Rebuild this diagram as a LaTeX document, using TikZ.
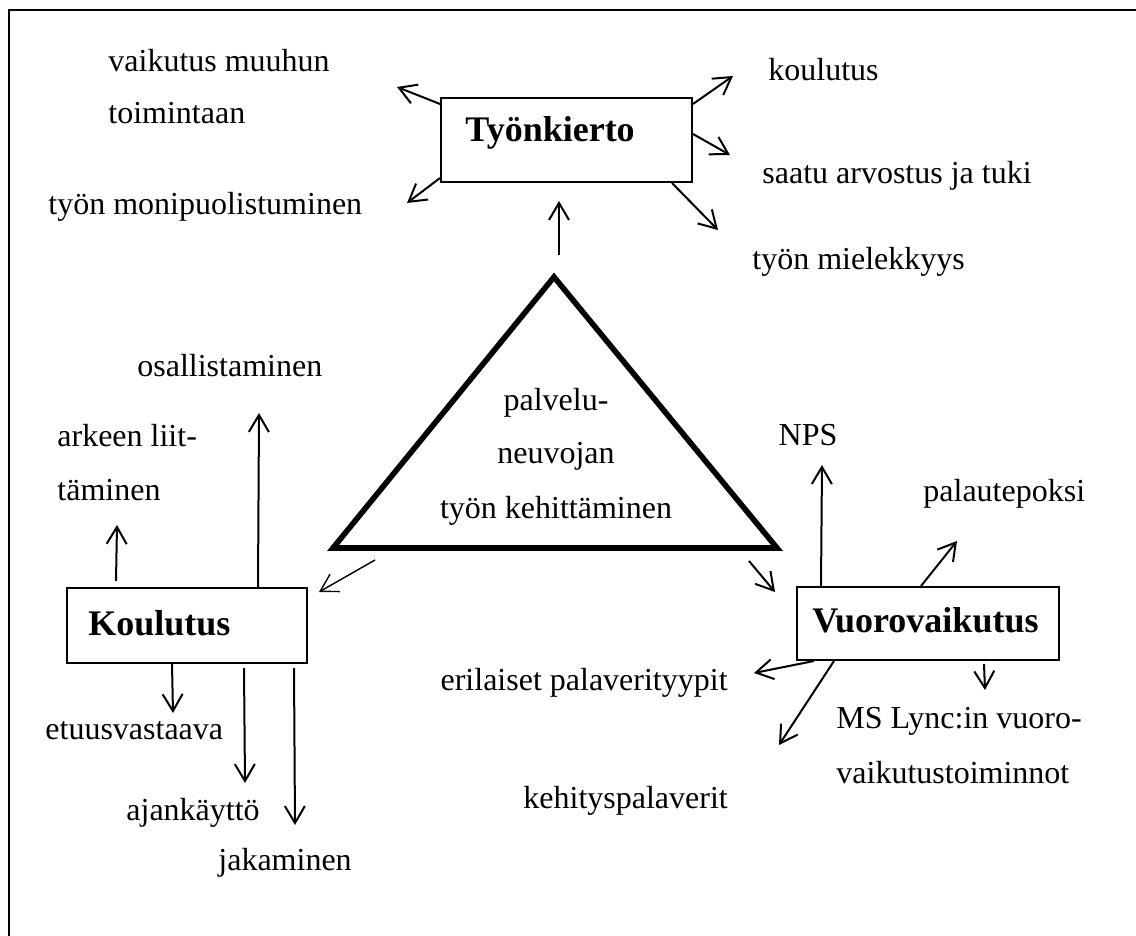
\documentclass[tikz,border=0pt]{standalone}
\usepackage{fontspec}
\setmainfont{Liberation Serif}
\usetikzlibrary{arrows.meta}
\begin{document}
\begin{tikzpicture}[x=0.5pt,y=-0.5pt,
  lbl/.style={inner sep=0pt, anchor=base west, font=\fontsize{16}{19}\selectfont},
  ttl/.style={inner sep=0pt, anchor=base west, font=\fontsize{18}{21}\selectfont\bfseries},
  boxnode/.style={draw, line width=1pt, inner sep=0pt},
  arr/.style={line width=1pt, -{Straight Barb[length=8.5pt,width=10pt]}},
]
\useasboundingbox (0,0) rectangle (1136,936);
% frame
\coordinate (fa) at (9,936);
\coordinate (fb) at (9,10);
\coordinate (fc) at (1136,10);
\draw[line width=1.2pt] (fa) -- (fb) -- (fc);

% boxes
\node[boxnode, minimum width=125.5pt, minimum height=42pt] (tk) at (566.5,140) {};
\node[ttl] (tkt) at (465,142) {Työnkierto};
\node[boxnode, minimum width=120pt, minimum height=37.5pt] (ko) at (187,625.5) {};
\node[ttl] (kot) at (88,635) {Koulutus};
\node[boxnode, minimum width=131pt, minimum height=36.5pt] (vu) at (928,623.5) {};
\node[ttl] (vut) at (812,632) {Vuorovaikutus};

% triangle
\coordinate (ta) at (554,277);
\coordinate (tl) at (333,548);
\coordinate (tr) at (777,548);
\draw[line width=2.8pt, line join=miter] (ta) -- (tl) -- (tr) -- cycle;
\node[lbl, anchor=base] (c1) at (556,410) {palvelu-};
\node[lbl, anchor=base] (c2) at (556,464) {neuvojan};
\node[lbl, anchor=base] (c3) at (556,518) {työn kehittäminen};

% labels
\node[lbl] (l1) at (108,72) {vaikutus muuhun};
\node[lbl] (l2) at (108,124) {toimintaan};
\node[lbl] (l3) at (48,215) {työn monipuolistuminen};
\node[lbl] (l4) at (768,81) {koulutus};
\node[lbl] (l5) at (762,184) {saatu arvostus ja tuki};
\node[lbl] (l6) at (752,270) {työn mielekkyys};
\node[lbl] (l7) at (137,377) {osallistaminen};
\node[lbl] (l8) at (57,446) {arkeen liit-};
\node[lbl] (l9) at (57,501) {täminen};
\node[lbl] (l10) at (45,739) {etuusvastaava};
\node[lbl] (l11) at (126,820) {ajankäyttö};
\node[lbl] (l12) at (218,870) {jakaminen};
\node[lbl, anchor=base] (l13) at (808,445) {NPS};
\node[lbl] (l14) at (923,502) {palautepoksi};
\node[lbl, anchor=base east] (l15) at (728,690) {erilaiset palaverityypit};
\node[lbl] (l16) at (836,728) {MS Lync:in vuoro-};
\node[lbl] (l17) at (836,783) {vaikutustoiminnot};
\node[lbl] (l18) at (523,808) {kehityspalaverit};

% free ends
\coordinate (e1) at (397,87);
\coordinate (e2) at (407,203);
\coordinate (e3) at (733,76);
\coordinate (e4) at (730,155);
\coordinate (e5) at (718,230);
\coordinate (s6) at (559,255);
\coordinate (k1) at (117,525);
\coordinate (k2) at (259,413);
\coordinate (s7) at (375,560);
\coordinate (k3) at (173,713);
\coordinate (k4) at (245,783);
\coordinate (k5) at (295,825);
\coordinate (v1) at (822,465);
\coordinate (v2) at (957,541);
\coordinate (v3) at (985,690);
\coordinate (v4) at (754,673);
\coordinate (v5) at (779,745);
\coordinate (s8) at (749,561);

% Työnkierto arrows
\draw[arr] ([yshift=-3.5pt]tk.north west) -- (e1);
\draw[arr] ([yshift=2.5pt]tk.south west) -- (e2);
\draw[arr] ([yshift=-3.5pt]tk.north east) -- (e3);
\draw[arr] ([yshift=-18.5pt]tk.north east) -- (e4);
\draw[arr] ([xshift=-10.5pt]tk.south east) -- (e5);
\draw[arr] (s6) -- ([xshift=-3.75pt,yshift=-9pt]tk.south);

% Koulutus arrows
\draw[arr] ([xshift=25pt,yshift=3pt]ko.north west) -- (k1);
\draw[arr] ([xshift=96pt]ko.north west) -- (k2);
\draw[arr, line width=0.7pt] (s7) -- ([xshift=5.5pt,yshift=-2.5pt]ko.north east);
\draw[arr] ([xshift=53pt]ko.south west) -- (k3);
\draw[arr] ([xshift=89pt,yshift=-2pt]ko.south west) -- (k4);
\draw[arr] ([xshift=114pt,yshift=-2pt]ko.south west) -- (k5);

% Vuorovaikutus arrows
\draw[arr] ([xshift=12.5pt]vu.north west) -- (v1);
\draw[arr] ([xshift=62.5pt]vu.north west) -- (v2);
\draw[arr] ([xshift=94pt,yshift=-1.5pt]vu.south west) -- (v3);
\draw[arr] ([xshift=9pt]vu.south west) -- (v4);
\draw[arr] ([xshift=19pt]vu.south west) -- (v5);
\draw[arr] (s8) -- ([xshift=-10.5pt,yshift=-3pt]vu.north west);
\end{tikzpicture}
\end{document}
